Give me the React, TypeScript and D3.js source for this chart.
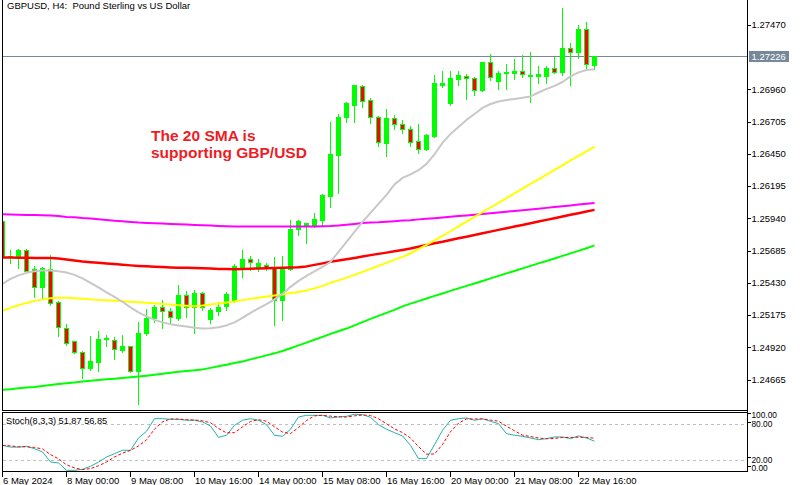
import React from 'react';
import * as d3 from 'd3';

// GBPUSD H4 candles, one entry per bar (6 May 16:00 -> 22 May 24)
const opens = [
  1.2592, 1.25635, 1.25643, 1.2569, 1.2554, 1.25398, 1.2554, 1.25279, 1.25073, 1.24971,
  1.24884, 1.24759, 1.24805, 1.24983, 1.24979, 1.249, 1.24931, 1.24733, 1.25034, 1.25153,
  1.2524, 1.25208, 1.25153, 1.25334, 1.2524, 1.2535, 1.25145, 1.25208, 1.25248, 1.25287,
  1.25556, 1.25619, 1.25556, 1.25572, 1.25548, 1.25295, 1.2554, 1.25857, 1.25888, 1.2588,
  1.25928, 1.26118, 1.26442, 1.26743, 1.26837, 1.26988, 1.26877, 1.26743, 1.26537, 1.26735,
  1.26687, 1.26648, 1.26553, 1.26489, 1.26592, 1.26996, 1.26853, 1.27043, 1.27067, 1.27051,
  1.26956, 1.27178, 1.27027, 1.27091, 1.27091, 1.27106, 1.27075, 1.27067, 1.27067, 1.2713,
  1.27098, 1.27288, 1.27257, 1.27439, 1.27154,
];
const highs = [
  1.25936, 1.25698, 1.25706, 1.25706, 1.25572, 1.25564, 1.25657, 1.25295, 1.25113, 1.24979,
  1.249, 1.25018, 1.25058, 1.25026, 1.2501, 1.25026, 1.24939, 1.25129, 1.25232, 1.25263,
  1.25303, 1.2524, 1.25421, 1.25374, 1.25382, 1.25366, 1.2524, 1.25287, 1.25366, 1.25588,
  1.25698, 1.25651, 1.25627, 1.25596, 1.25643, 1.25651, 1.25936, 1.25936, 1.25912, 1.25991,
  1.26141, 1.26711, 1.26774, 1.26869, 1.27004, 1.27004, 1.26901, 1.26758, 1.26814, 1.26766,
  1.26727, 1.26679, 1.26695, 1.26616, 1.27083, 1.27114, 1.27114, 1.27114, 1.27091, 1.27067,
  1.27178, 1.27249, 1.27114, 1.2717, 1.27209, 1.27241, 1.27265, 1.27154, 1.27154, 1.27225,
  1.27613, 1.27336, 1.27478, 1.27502, 1.27226,
];
const lows = [
  1.25619, 1.25588, 1.25548, 1.25516, 1.25319, 1.25311, 1.25255, 1.2501, 1.24939, 1.24876,
  1.24678, 1.24741, 1.24733, 1.24931, 1.24828, 1.24884, 1.24725, 1.24472, 1.25018, 1.25121,
  1.25073, 1.25113, 1.25137, 1.25161, 1.25034, 1.25216, 1.25113, 1.25176, 1.25216, 1.25279,
  1.25477, 1.25532, 1.25524, 1.25532, 1.25097, 1.25137, 1.25532, 1.25809, 1.25746, 1.25872,
  1.25888, 1.26031, 1.26141, 1.26703, 1.26703, 1.26822, 1.26695, 1.26513, 1.26434, 1.26648,
  1.26616, 1.26513, 1.26458, 1.26482, 1.26584, 1.2698, 1.26837, 1.26996, 1.26885, 1.26917,
  1.26948, 1.27035, 1.26964, 1.26964, 1.27043, 1.27059, 1.26861, 1.27011, 1.27011, 1.27091,
  1.27075, 1.26996, 1.27209, 1.27122, 1.27122,
];
const closes = [
  1.25635, 1.25643, 1.2569, 1.25524, 1.25398, 1.25548, 1.25271, 1.25081, 1.24955, 1.24884,
  1.24759, 1.24813, 1.24987, 1.24991, 1.24907, 1.24931, 1.24733, 1.25034, 1.25153, 1.2524,
  1.25208, 1.25161, 1.25334, 1.2524, 1.2535, 1.2524, 1.25216, 1.2524, 1.25342, 1.25564,
  1.25619, 1.25596, 1.25588, 1.25556, 1.25295, 1.25548, 1.25857, 1.2592, 1.25904, 1.25936,
  1.26126, 1.2645, 1.26743, 1.26853, 1.26996, 1.26869, 1.26743, 1.26545, 1.26735, 1.26687,
  1.26648, 1.26545, 1.26489, 1.266, 1.27011, 1.27011, 1.27051, 1.27075, 1.27051, 1.26956,
  1.27178, 1.27059, 1.27091, 1.27098, 1.27106, 1.27083, 1.27071, 1.27083, 1.2713, 1.27098,
  1.27288, 1.27257, 1.27439, 1.27162, 1.27226,
];

// moving averages, one value per bar
const maSilver = [
  1.25422, 1.25461, 1.25489, 1.25509, 1.25522, 1.25528, 1.25528, 1.25522, 1.25511, 1.25493,
  1.25465, 1.2543, 1.25394, 1.25355, 1.25319, 1.2528, 1.25236, 1.25196, 1.25165, 1.25137,
  1.25117, 1.25103, 1.25093, 1.25084, 1.25075, 1.25068, 1.2507, 1.25079, 1.25093, 1.25117,
  1.25153, 1.25192, 1.25228, 1.25262, 1.25299, 1.25342, 1.25398, 1.25445, 1.25485, 1.2552,
  1.25556, 1.25596, 1.25675, 1.25754, 1.25833, 1.25912, 1.25983, 1.26054, 1.26126, 1.26209,
  1.2626, 1.26288, 1.26321, 1.26371, 1.26447, 1.26537, 1.26608, 1.26663, 1.26719, 1.26766,
  1.26814, 1.26845, 1.26865, 1.26877, 1.26885, 1.26894, 1.26905, 1.26936, 1.26964, 1.26988,
  1.27019, 1.27063, 1.27095, 1.27114, 1.2712,
];
const maYellow = [
  1.25208, 1.25232, 1.25253, 1.25271, 1.25287, 1.25299, 1.25308, 1.25311, 1.25311, 1.25307,
  1.25303, 1.25299, 1.25295, 1.25293, 1.25289, 1.25285, 1.25281, 1.25277, 1.25273, 1.25268,
  1.25262, 1.25258, 1.25253, 1.25248, 1.25244, 1.2525, 1.25259, 1.25267, 1.25275, 1.25283,
  1.25293, 1.25303, 1.25312, 1.25321, 1.2533, 1.25338, 1.25349, 1.25358, 1.2537, 1.25386,
  1.25406, 1.2543, 1.25449, 1.25471, 1.25493, 1.25517, 1.2554, 1.25564, 1.25588, 1.25612,
  1.25635, 1.25664, 1.25696, 1.2573, 1.25765, 1.25801, 1.25838, 1.25876, 1.25914, 1.25952,
  1.25989, 1.26026, 1.26063, 1.261, 1.26138, 1.26175, 1.26212, 1.26249, 1.26286, 1.26323,
  1.2636, 1.26398, 1.26434, 1.2647, 1.26507,
];
const maRed = [
  1.2563, 1.2563, 1.25629, 1.25628, 1.25627, 1.25626, 1.25626, 1.25623, 1.25615, 1.25607,
  1.25598, 1.25593, 1.25588, 1.25583, 1.25578, 1.25573, 1.25568, 1.25564, 1.25561, 1.25558,
  1.25555, 1.25552, 1.2555, 1.2555, 1.25548, 1.25546, 1.25543, 1.2554, 1.25539, 1.25538,
  1.2554, 1.25542, 1.25544, 1.25546, 1.25548, 1.2555, 1.25552, 1.25554, 1.2556, 1.25572,
  1.25584, 1.25596, 1.25606, 1.25617, 1.25627, 1.25638, 1.25649, 1.25659, 1.25669, 1.25679,
  1.2569, 1.25702, 1.25716, 1.25729, 1.25743, 1.25755, 1.25769, 1.25782, 1.25795, 1.25808,
  1.25822, 1.25835, 1.25849, 1.25862, 1.25875, 1.25888, 1.25902, 1.25915, 1.25928, 1.25941,
  1.25955, 1.25968, 1.25981, 1.25994, 1.26007,
];
const maMagenta = [
  1.25973, 1.25971, 1.25969, 1.25967, 1.25966, 1.25964, 1.25963, 1.25959, 1.25951, 1.25948,
  1.25942, 1.25938, 1.25933, 1.25928, 1.25922, 1.25918, 1.25912, 1.25907, 1.25904, 1.25902,
  1.25899, 1.25896, 1.25894, 1.25891, 1.25888, 1.25886, 1.25883, 1.2588, 1.25877, 1.25875,
  1.25875, 1.25875, 1.25875, 1.25875, 1.25875, 1.25875, 1.25875, 1.25875, 1.25875, 1.25876,
  1.25878, 1.2588, 1.25884, 1.2589, 1.25896, 1.25903, 1.25908, 1.2591, 1.25914, 1.25918,
  1.25923, 1.25926, 1.25932, 1.25936, 1.25941, 1.25947, 1.25952, 1.25958, 1.25963, 1.25969,
  1.25975, 1.25981, 1.25987, 1.25993, 1.25999, 1.26004, 1.2601, 1.26016, 1.26023, 1.26029,
  1.26036, 1.26042, 1.2605, 1.26056, 1.26062,
];
const maGreen = [
  1.24583, 1.24587, 1.24595, 1.24601, 1.24605, 1.24613, 1.24621, 1.24629, 1.24636, 1.24642,
  1.24649, 1.24655, 1.24661, 1.24667, 1.24671, 1.24677, 1.24682, 1.24688, 1.24695, 1.24702,
  1.2471, 1.24718, 1.24726, 1.24733, 1.24738, 1.24745, 1.24757, 1.24769, 1.24782, 1.24795,
  1.24808, 1.24824, 1.2484, 1.24856, 1.24872, 1.2489, 1.24912, 1.24935, 1.24957, 1.24979,
  1.25002, 1.25026, 1.25047, 1.25068, 1.25093, 1.25119, 1.25145, 1.25168, 1.25192, 1.25216,
  1.25244, 1.25265, 1.25285, 1.25306, 1.25327, 1.25346, 1.25366, 1.25386, 1.25406, 1.25425,
  1.25445, 1.25465, 1.25485, 1.25505, 1.25524, 1.25544, 1.25564, 1.25584, 1.25603, 1.25623,
  1.25643, 1.25663, 1.25683, 1.25704, 1.25726,
];

// Stochastic(8,3,3)
const stochK = [
  45, 42, 42, 43.3, 39.4, 33.9, 17.2, 15.6, 3.3, 3.3,
  5, 10, 17, 25.5, 31, 36.7, 36.7, 57, 68.3, 89.4,
  89.4, 88.3, 88.3, 86.7, 86.7, 83.9, 77.2, 58.3, 61.7, 78.3,
  86.7, 89.4, 86.7, 79.4, 61.7, 60, 71.7, 92.2, 95, 95,
  95, 90.6, 92.2, 93.3, 96.7, 96.1, 91.7, 79.4, 71.7, 66.1,
  60.6, 45, 22.8, 22.8, 46.1, 70, 86.7, 89.4, 90.6, 86.7,
  89.4, 85, 81.1, 64.4, 61.7, 60, 57.2, 54.4, 56.1, 58.9,
  58.9, 56.1, 60.6, 57.2, 51.87,
];
const stochD = [
  45, 44, 42.5, 42.5, 41.5, 38.9, 29.5, 22.5, 12.5, 7.3,
  4.5, 6.1, 11, 17, 25.5, 32, 36.5, 44, 54, 72,
  84, 89, 88.7, 87.8, 87.2, 85.8, 82.6, 73.1, 65.7, 66.1,
  75.6, 84.8, 87.6, 85.2, 75.9, 67, 64.5, 74.6, 86.3, 94.1,
  95, 93.5, 92.6, 92, 94.1, 95.4, 94.8, 89.1, 80.9, 72.4,
  66.1, 57.2, 42.8, 30.2, 30.6, 46.3, 67.6, 82, 88.9, 88.9,
  88.9, 87, 85.2, 76.8, 69.1, 62, 59.6, 57.2, 55.9, 56.5,
  58, 58, 58.5, 58, 56.85,
];

const priceTicks = [1.2747, 1.2696, 1.26705, 1.2645, 1.26195, 1.2594, 1.25685, 1.2543, 1.25175, 1.2492, 1.24665];
const lastPrice = 1.27226;
const timeLabels = ['6 May 2024', '8 May 00:00', '9 May 08:00', '10 May 16:00', '14 May 00:00',
  '15 May 08:00', '16 May 16:00', '20 May 00:00', '21 May 08:00', '22 May 16:00'];
const timeLabelBars = [0, 8, 16, 24, 32, 40, 48, 56, 64, 72];
const stochLevels = [80, 20];
const stochAxis = [100, 80, 20, 0];

const FONT = '"Liberation Sans", Arial, sans-serif';
const LEFT = 2.5;
const RIGHT = 747.5;
const MAIN_BOTTOM = 410.5;
const ST_TOP = 412.5;
const ST_BOTTOM = 471.5;

export default function App() {
  const n = opens.length;
  const x = d3.scaleLinear().domain([0, n - 1]).range([2.5, 2.5 + 8 * (n - 1)]);
  const y = d3.scaleLinear().domain([1.24665, 1.2747]).range([379.5, 25]);
  const ys = d3.scaleLinear().domain([0, 100]).range([472.3, 412.3]);

  const maPath = d3.line<number>().x((_, i) => x(i)).y(d => y(d));
  const stPath = d3.line<number>().x((_, i) => x(i)).y(d => ys(d));

  const snap = (v: number) => Math.round(v) + 0.5;
  const lastY = snap(y(lastPrice));

  const mas = [
    { data: maGreen, color: '#00ff00', w: 2 },
    { data: maRed, color: '#ff0000', w: 2.5 },
    { data: maMagenta, color: '#ff00ff', w: 2 },
    { data: maYellow, color: '#ffff00', w: 2 },
    { data: maSilver, color: '#c8c8c8', w: 2 },
  ];

  // the stochastic scale labels sit inset from the panel edges, as in the terminal
  const stochLabelY: Record<number, number> = { 100: 415.5, 80: 424.5, 20: 460, 0: 468.5 };

  return (
    <div style={{ position: 'absolute', left: 0, top: 0 }}>
      <svg width={800} height={485} style={{ display: 'block', background: '#fff' }}>
        <defs>
          <clipPath id="mainClip">
            <rect x={3} y={0} width={RIGHT - 3.5} height={MAIN_BOTTOM - 0.5} />
          </clipPath>
          <clipPath id="stClip">
            <rect x={3} y={ST_TOP + 0.5} width={RIGHT - 3.5} height={ST_BOTTOM - ST_TOP - 1} />
          </clipPath>
        </defs>

        {/* title */}
        <text x={7} y={8.5} fontFamily={FONT} fontSize={9.5} fill="#000" style={{ whiteSpace: 'pre' }}>
          {'GBPUSD, H4:  Pound Sterling vs US Dollar'}
        </text>

        {/* main panel */}
        <g clipPath="url(#mainClip)">
          <line x1={LEFT} x2={RIGHT} y1={lastY} y2={lastY} stroke="#778899" strokeWidth={1} shapeRendering="crispEdges" />
          {opens.map((o, i) => {
            const c = closes[i];
            const cx = x(i);
            const top = snap(y(Math.max(o, c)));
            const bot = snap(y(Math.min(o, c)));
            const bull = c >= o;
            return (
              <g key={i} shapeRendering="crispEdges">
                <line x1={cx} x2={cx} y1={snap(y(highs[i]))} y2={snap(y(lows[i]))} stroke="#00ff00" strokeWidth={1} />
                <rect x={cx - 2} y={top} width={4} height={Math.max(bot - top, 1)}
                  fill={bull ? '#00ff00' : '#ff0000'} stroke="#00ff00" strokeWidth={1} />
              </g>
            );
          })}
          {mas.map((m, i) => (
            <path key={i} d={maPath(m.data) || ''} fill="none" stroke={m.color} strokeWidth={m.w} strokeLinejoin="round" />
          ))}
        </g>

        {/* annotation */}
        <g fontFamily={FONT} fontWeight="bold" fontSize={15.5} fill="#ee1c25">
          <text x={151} y={141}>The 20 SMA is</text>
          <text x={151} y={158}>supporting GBP/USD</text>
        </g>

        {/* stochastic panel */}
        <g clipPath="url(#stClip)">
          {stochLevels.map(l => (
            <line key={l} x1={LEFT} x2={RIGHT} y1={snap(ys(l))} y2={snap(ys(l))}
              stroke="#c0c0c0" strokeDasharray="3,3" shapeRendering="crispEdges" />
          ))}
          <path d={stPath(stochK) || ''} fill="none" stroke="#20b2aa" strokeWidth={1} />
          <path d={stPath(stochD) || ''} fill="none" stroke="#ff0000" strokeWidth={1} strokeDasharray="3,2" />
        </g>
        <text x={6} y={424} fontFamily={FONT} fontSize={9.2} fill="#000">
          {`Stoch(8,3,3) ${stochK[n - 1].toFixed(2)} ${stochD[n - 1].toFixed(2)}`}
        </text>

        {/* frames */}
        <g stroke="#000" strokeWidth={1} shapeRendering="crispEdges" fill="none">
          <line x1={LEFT} x2={LEFT} y1={0} y2={MAIN_BOTTOM} />
          <line x1={LEFT} x2={RIGHT} y1={MAIN_BOTTOM} y2={MAIN_BOTTOM} />
          <rect x={LEFT} y={ST_TOP} width={RIGHT - LEFT} height={ST_BOTTOM - ST_TOP} />
          <line x1={RIGHT} x2={RIGHT} y1={0} y2={ST_BOTTOM} />
        </g>

        {/* price axis */}
        <g fontFamily={FONT} fontSize={9.5} fill="#000">
          {priceTicks.map(p => (
            <g key={p}>
              <line x1={RIGHT} x2={751} y1={snap(y(p))} y2={snap(y(p))} stroke="#000" shapeRendering="crispEdges" />
              <text x={751.5} y={y(p)} dy="0.35em">{p.toFixed(5)}</text>
            </g>
          ))}
          <rect x={749} y={lastY - 5.5} width={40} height={11} fill="#778899" />
          <text x={751.5} y={lastY} dy="0.35em" fill="#fff">{lastPrice.toFixed(5)}</text>
        </g>

        {/* stochastic axis */}
        <g fontFamily={FONT} fontSize={8.3} fill="#000">
          {stochAxis.map(v => {
            const ty = stochLabelY[v];
            return (
              <g key={v}>
                <line x1={RIGHT} x2={751} y1={snap(ty - 3)} y2={snap(ty - 3)} stroke="#000" shapeRendering="crispEdges" />
                <text x={751.5} y={ty} dy="0.35em">{v.toFixed(2)}</text>
              </g>
            );
          })}
        </g>

        {/* time axis */}
        <g fontFamily={FONT} fontSize={9.5} fill="#000">
          {timeLabels.map((t, i) => {
            const tx = x(timeLabelBars[i]) - 0.5;
            return (
              <g key={t}>
                <line x1={snap(tx)} x2={snap(tx)} y1={ST_BOTTOM} y2={477} stroke="#000" shapeRendering="crispEdges" />
                <text x={tx + 1} y={484}>{t}</text>
              </g>
            );
          })}
        </g>
      </svg>
    </div>
  );
}
